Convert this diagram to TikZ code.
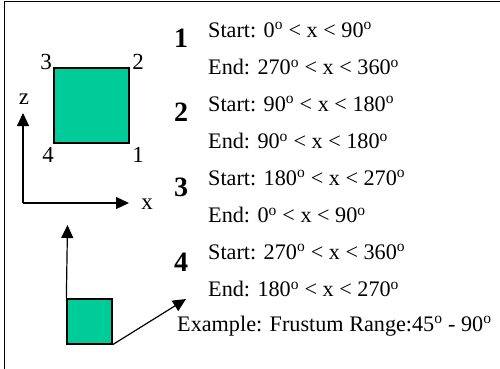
\documentclass[tikz,border=0pt]{standalone}
\usepackage{fontspec}
\setmainfont{Liberation Serif}
\usetikzlibrary{arrows.meta}
\definecolor{teal1}{RGB}{0,204,153}
\newcommand{\dg}{\textsuperscript{o}}
\tikzset{
  sq/.style={draw=black, fill=teal1, line width=1.3pt, inner sep=0pt},
  ax/.style={line width=1.2pt, -{Triangle[length=13pt,width=12pt]}},
  lbl/.style={font=\fontsize{23}{23}\selectfont, inner sep=0pt},
  txt/.style={font=\fontsize{22.2}{22.2}\selectfont, anchor=west, inner sep=0pt},
  num/.style={font=\fontsize{28}{28}\selectfont\bfseries, inner sep=0pt}
}
\begin{document}
\begin{tikzpicture}[x=1pt,y=-1pt]
\clip (0,0) rectangle (500,368);
\draw[line width=1.5pt] (4.5,380) -- (4.5,1.5) -- (510,1.5);
% big square
\node[sq, minimum width=75pt, minimum height=75pt] (big) at (91.5,105.5) {};
\node[lbl] (c3) at (46,62) {3};
\node[lbl] (c2) at (138,62) {2};
\node[lbl] (c4) at (48,155) {4};
\node[lbl] (c1) at (138,155) {1};
% axes
\coordinate (o) at (23,203);
\coordinate (zt) at (23,113);
\coordinate (xt) at (129,203);
\draw[ax] (o) -- (zt);
\draw[ax] (o) -- (xt);
\node[lbl] (zl) at (24,99) {z};
\node[lbl] (xl) at (147,204) {x};
% small square
\node[sq, minimum width=45pt, minimum height=45pt] (small) at (89.5,321.5) {};
\coordinate (vt) at (67.5,225);
\coordinate (dt) at (186,299);
\draw[ax] (small.north west) -- (vt);
\draw[ax] (small.south east) -- (dt);
% numbers
\node[num] (n1) at (181,38) {1};
\node[num] (n2) at (181,112) {2};
\node[num] (n3) at (181,187) {3};
\node[num] (n4) at (181,262) {4};
% text
\node[txt] (s1) at (208,30) {Start: 0\dg{} < x < 90\dg};
\node[txt] (e1) at (208,67) {End: 270\dg{} < x < 360\dg};
\node[txt] (s2) at (208,104) {Start: 90\dg{} < x < 180\dg};
\node[txt] (e2) at (208,141) {End: 90\dg{} < x < 180\dg};
\node[txt] (s3) at (208,178) {Start: 180\dg{} < x < 270\dg};
\node[txt] (e3) at (208,215) {End: 0\dg{} < x < 90\dg};
\node[txt] (s4) at (208,252) {Start: 270\dg{} < x < 360\dg};
\node[txt] (e4) at (208,289) {End: 180\dg{} < x < 270\dg};
\node[txt] (ex) at (177,326) {Example: Frustum Range:45\dg{} - 90\dg};
\end{tikzpicture}
\end{document}
